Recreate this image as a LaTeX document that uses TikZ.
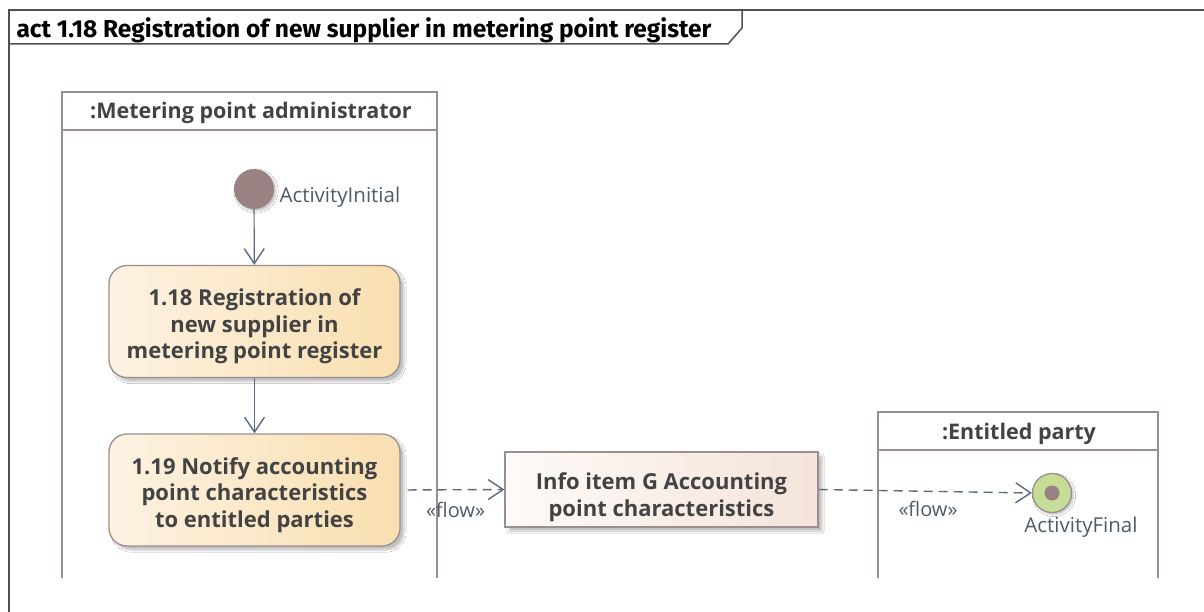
\documentclass[tikz,border=0pt]{standalone}
\usepackage{fontspec}
\setmainfont{Open Sans}
\newfontfamily\titlefont{Fira Sans}
\usetikzlibrary{arrows.meta,shadows.blur}
\definecolor{lanecol}{HTML}{9C8E8E}
\definecolor{framecol}{HTML}{505050}
\definecolor{txtcol}{HTML}{434343}
\definecolor{arrcol}{HTML}{5A6886}
\definecolor{actL}{HTML}{FDF2E2}
\definecolor{actR}{HTML}{F9DFB0}
\definecolor{infoL}{HTML}{FEFAF7}
\definecolor{infoR}{HTML}{F4E4DA}
\definecolor{initcol}{HTML}{9A8282}
\definecolor{finalcol}{HTML}{C5DD96}
\definecolor{lbl}{HTML}{505A6C}
\tikzset{
  lanebox/.style={draw=lanecol, line width=2.4pt, fill=white},
  lanetitle/.style={font=\fontsize{21.5}{24}\selectfont\bfseries, text=txtcol},
  actionbox/.style={draw=lanecol, line width=1.3pt, rounded corners=18pt, left color=actL, right color=actR,
     minimum width=291pt, minimum height=112pt,
     blur shadow={shadow xshift=4pt, shadow yshift=-4pt, shadow blur steps=6, shadow opacity=25}},
  infobox/.style={draw=lanecol, line width=1.3pt, left color=infoL, right color=infoR,
     minimum width=313pt, minimum height=75pt,
     blur shadow={shadow xshift=4pt, shadow yshift=-4pt, shadow blur steps=6, shadow opacity=25}},
  boxtext/.style={align=center, text=txtcol, font=\fontsize{22}{26.5}\selectfont\bfseries},
  ctrlflow/.style={draw=arrcol, line width=1.2pt, -{Straight Barb[length=15pt,width=20pt,line width=1.4pt]}},
  objflow/.style={ctrlflow, line width=1.4pt, dash pattern=on 9pt off 6pt},
  flowlbl/.style={text=lbl, font=\fontsize{20}{22}\selectfont},
  actlbl/.style={text=lbl, font=\fontsize{20.5}{22}\selectfont},
}
\begin{document}
\begin{tikzpicture}[x=1pt,y=-1pt]
\useasboundingbox (0,0) rectangle (1204,612);
\fill[white] (0,0) rectangle (1204,612);
% frame
\draw[framecol, line width=1.5pt] (9,612) -- (9,10) -- (1204,10);
\draw[framecol, line width=1.5pt] (9,44) -- (728,44) -- (742,28) -- (742,10);
\node[anchor=west, font=\titlefont\fontsize{24.5}{27}\selectfont\bfseries, text=black] (title) at (13,30) {act 1.18 Registration of new supplier in metering point register};
% lane 1
\draw[lanebox] (62,92) rectangle (437,130);
\draw[lanecol, line width=2.4pt] (62,130) -- (62,578) (437,130) -- (437,578);
\node[lanetitle] (lane1) at (251,113) {:Metering point administrator};
% lane 2
\draw[lanebox] (878,412) rectangle (1158,450);
\draw[lanecol, line width=2.4pt] (878,450) -- (878,578) (1158,450) -- (1158,578);
\node[lanetitle] (lane2) at (1019,433.5) {:Entitled party};
% initial
\node[circle, fill=initcol, minimum size=40pt, inner sep=0pt,
  blur shadow={shadow xshift=2pt, shadow yshift=-2pt, shadow blur steps=4, shadow opacity=25}] (init) at (254,189) {};
\node[actlbl, anchor=west] (initlbl) at (276,197) {ActivityInitial};
% actions
\node[actionbox] (a1) at (254.5,321.5) {};
\node[boxtext] (a1t) at (254.5,326.5) {1.18 Registration of\\new supplier in\\metering point register};
\node[actionbox] (a2) at (254.5,490) {};
\node[boxtext] (a2t) at (254.5,495) {1.19 Notify accounting\\point characteristics\\to entitled parties};
% info
\node[infobox] (info) at (661.5,489.5) {};
\node[boxtext] (infot) at (661.5,497) {Info item G Accounting\\point characteristics};
% final
\node[circle, draw=lanecol, line width=1.3pt, fill=finalcol, minimum size=39pt, inner sep=0pt,
  blur shadow={shadow xshift=2pt, shadow yshift=-2pt, shadow blur steps=4, shadow opacity=25}] (fin) at (1052,493) {};
\node[circle, fill=initcol, minimum size=15pt, inner sep=0pt] (finin) at (fin.center) {};
\node[actlbl] (finlbl) at (1081,527) {ActivityFinal};
% connectors
\draw[ctrlflow] (init) -- (a1);
\draw[ctrlflow] (a1) -- (a2);
\draw[objflow, shorten <=7pt] (a2.east) -- node[flowlbl, pos=0.5, below=8pt, xshift=3pt] (f1) {«flow»} (info.west);
\draw[objflow] (info.east) -- node[flowlbl, pos=0.48, below=6pt, xshift=7pt] (f2) {«flow»} (fin.west);
\end{tikzpicture}
\end{document}
